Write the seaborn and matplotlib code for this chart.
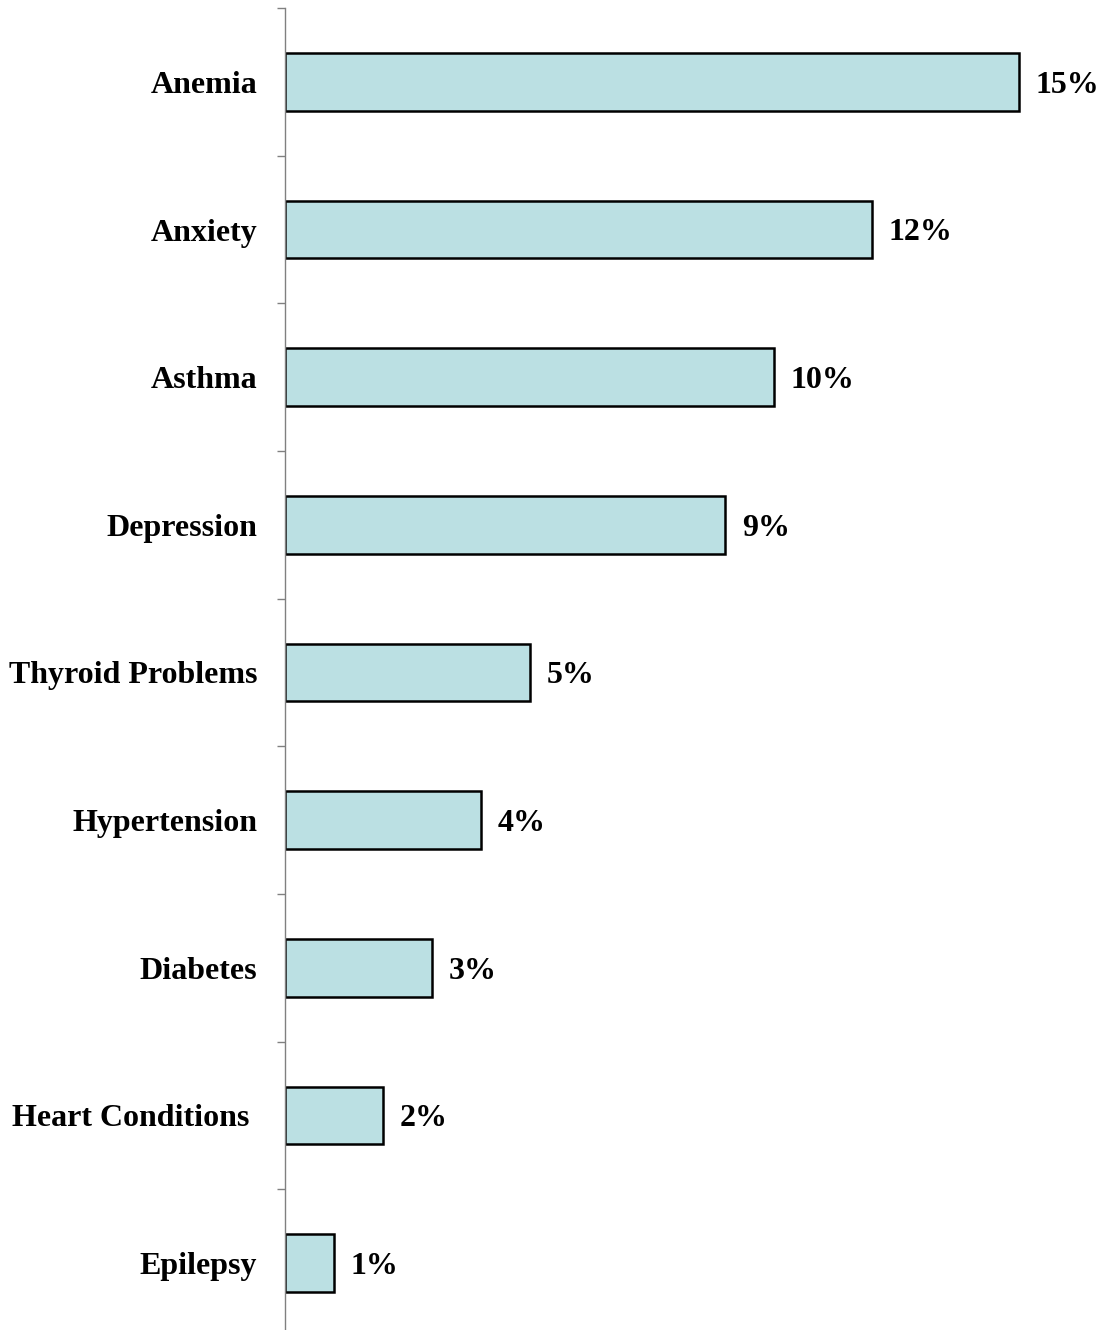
import matplotlib
matplotlib.use('Agg')
import matplotlib.pyplot as plt
import seaborn as sns
import pandas as pd
import numpy as np

conditions = ['Anemia', 'Anxiety', 'Asthma', 'Depression', 'Thyroid Problems',
              'Hypertension', 'Diabetes', 'Heart Conditions ', 'Epilepsy']
percents = [15, 12, 10, 9, 5, 4, 3, 2, 1]

df = pd.DataFrame({'condition': conditions, 'pct': percents})

sns.set_theme(style='white')
plt.rcParams['font.family'] = ['Liberation Serif', 'DejaVu Serif']
plt.rcParams['font.weight'] = 'bold'
plt.rcParams['text.color'] = 'black'
plt.rcParams['ytick.labelcolor'] = 'black'

fig = plt.figure(figsize=(11.01, 13.30), dpi=100)
ax = fig.add_axes([285 / 1101, -7 / 1330, 1 - 285 / 1101, 1329 / 1330])

sns.barplot(data=df, x='pct', y='condition', orient='h', color='#BBE0E3',
            saturation=1, width=0.39, edgecolor='black', linewidth=1.8, ax=ax)

ax.set_xlim(0, (1101 - 285) / ((1019 - 285) / 15))
ax.set_ylim(len(conditions) - 0.5, -0.5)

for i, v in enumerate(percents):
    ax.annotate(f'{v}%', xy=(v, i), xytext=(12, 0), textcoords='offset points',
                ha='left', va='center_baseline', fontsize=23, fontweight='bold',
                color='black')

for s in ['top', 'right', 'bottom']:
    ax.spines[s].set_visible(False)
ax.spines['left'].set_color('#808080')
ax.spines['left'].set_linewidth(1.0)

ax.set_xticks([])
ax.set_xlabel('')
ax.set_ylabel('')
ax.set_yticks(np.arange(len(conditions) + 1) - 0.5, minor=True)
ax.tick_params(axis='y', which='major', length=0, pad=20, labelsize=23,
               labelcolor='black')
ax.tick_params(axis='y', which='minor', left=True, length=6, width=1.0, color='#808080')
for lbl in ax.get_yticklabels():
    lbl.set_fontweight('bold')
    lbl.set_verticalalignment('center_baseline')

plt.savefig('out.png', dpi=100)
